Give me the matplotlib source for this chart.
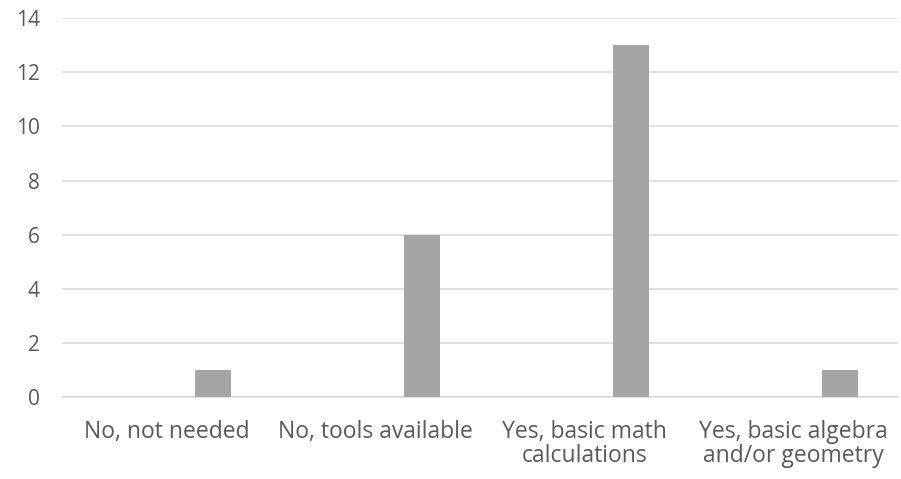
import numpy as np
import matplotlib.pyplot as plt

categories = ['No, not needed', 'No, tools available',
              'Yes, basic math\ncalculations', 'Yes, basic algebra\nand/or geometry']
counts = [1, 6, 13, 1]
y_ticks = [0, 2, 4, 6, 8, 10, 12, 14]

plt.rcParams['font.family'] = ['Open Sans', 'DejaVu Sans']

fig = plt.figure(figsize=(9.01, 4.79), dpi=100)
ax = fig.add_axes([62 / 901, 1 - 397.3 / 479, 836 / 901, (397.3 - 18) / 479])

x = np.arange(len(categories))
# bars sit in the right-hand slot of each category
ax.bar(x + 0.222, counts, width=0.175, color='#A5A5A5', zorder=3)

ax.set_xlim(-0.5, len(categories) - 0.5)
ax.set_ylim(0, 14)
ax.set_yticks(y_ticks)
ax.set_xticks(x)
ax.set_xticklabels(categories, linespacing=1.0)
ax.grid(axis='y', color='#D9D9D9', linewidth=1.1, zorder=0)
ax.tick_params(length=0, colors='#595959')
ax.tick_params(axis='x', pad=16, labelsize=16.5)
ax.tick_params(axis='y', pad=16, labelsize=15)
for side in ['top', 'right', 'left']:
    ax.spines[side].set_visible(False)
ax.spines['bottom'].set_color('#D9D9D9')
ax.spines['bottom'].set_linewidth(1.1)

fig.savefig('out.png', dpi=100)
